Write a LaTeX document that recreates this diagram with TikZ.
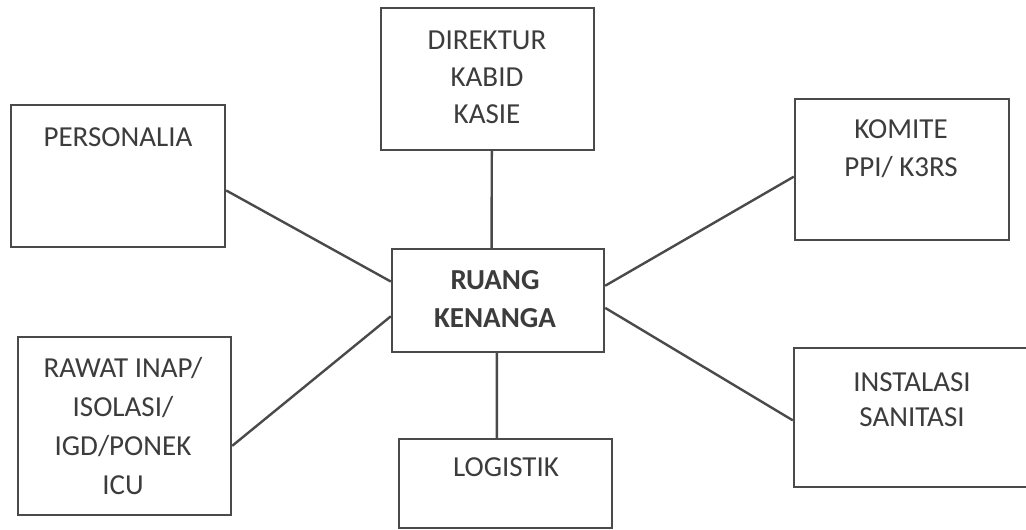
\documentclass[tikz,border=0pt]{standalone}
\usepackage{fontspec}
\setmainfont{Carlito}
\usetikzlibrary{calc}
\definecolor{ink}{HTML}{3C3C3C}
\definecolor{edge}{HTML}{4A4A4A}
\begin{document}
\begin{tikzpicture}[x=1pt,y=-1pt,
  boxx/.style={draw=edge,line width=2.4pt,rectangle,inner sep=0pt},
  lbl/.style={text=ink,align=center,font=\fontsize{29}{37}\selectfont},
  conn/.style={draw=edge,line width=2.4pt}]
\useasboundingbox (0,0) rectangle (1026,530);
\fill[white] (0,0) rectangle (1026,530);
% boxes
\node[boxx,minimum width=213pt,minimum height=142pt] (dir) at (487.5,79) {};
\node[boxx,minimum width=214pt,minimum height=142pt] (pers) at (118,176) {};
\node[boxx,minimum width=214pt,minimum height=141pt] (kom) at (902,169.5) {};
\node[boxx,minimum width=212pt,minimum height=103pt] (ruang) at (498,300.5) {};
\node[boxx,minimum width=213pt,minimum height=178pt] (rawat) at (124.5,426) {};
\node[boxx,minimum width=236pt,minimum height=139pt] (inst) at (912,417.5) {};
\node[boxx,minimum width=213pt,minimum height=89pt] (log) at (505.5,483.5) {};
% texts
\node[lbl] (tdir) at (487,77) {DIREKTUR\\KABID\\KASIE};
\node[lbl] (tpers) at (118,137) {PERSONALIA};
\node[lbl,font=\fontsize{29}{38}\selectfont] (tkom) at (901,149) {KOMITE\\PPI/ K3RS};
\node[lbl,font=\fontsize{29}{38}\selectfont\bfseries] (truang) at (495,299) {RUANG\\KENANGA};
\node[lbl,font=\fontsize{29}{39}\selectfont] (trawat) at (123,426) {RAWAT INAP/\\ISOLASI/\\IGD/PONEK\\ICU};
\node[lbl,font=\fontsize{29}{35}\selectfont] (tinst) at (912,400) {INSTALASI\\SANITASI};
\node[lbl] (tlog) at (506,467) {LOGISTIK};
% connectors
\draw[conn] ($(dir.south west)!0.52!(dir.south east)$) -- ($(ruang.north west)!0.47!(ruang.north east)$);
\draw[conn] ($(ruang.south west)!0.495!(ruang.south east)$) -- ($(log.north west)!0.46!(log.north east)$);
\draw[conn] ($(pers.north east)!0.6!(pers.south east)$) -- ($(ruang.north west)!0.32!(ruang.south west)$);
\draw[conn] ($(rawat.north east)!0.61!(rawat.south east)$) -- ($(ruang.north west)!0.65!(ruang.south west)$);
\draw[conn] ($(kom.north west)!0.55!(kom.south west)$) -- ($(ruang.north east)!0.36!(ruang.south east)$);
\draw[conn] ($(inst.north west)!0.52!(inst.south west)$) -- ($(ruang.north east)!0.57!(ruang.south east)$);
\end{tikzpicture}
\end{document}
